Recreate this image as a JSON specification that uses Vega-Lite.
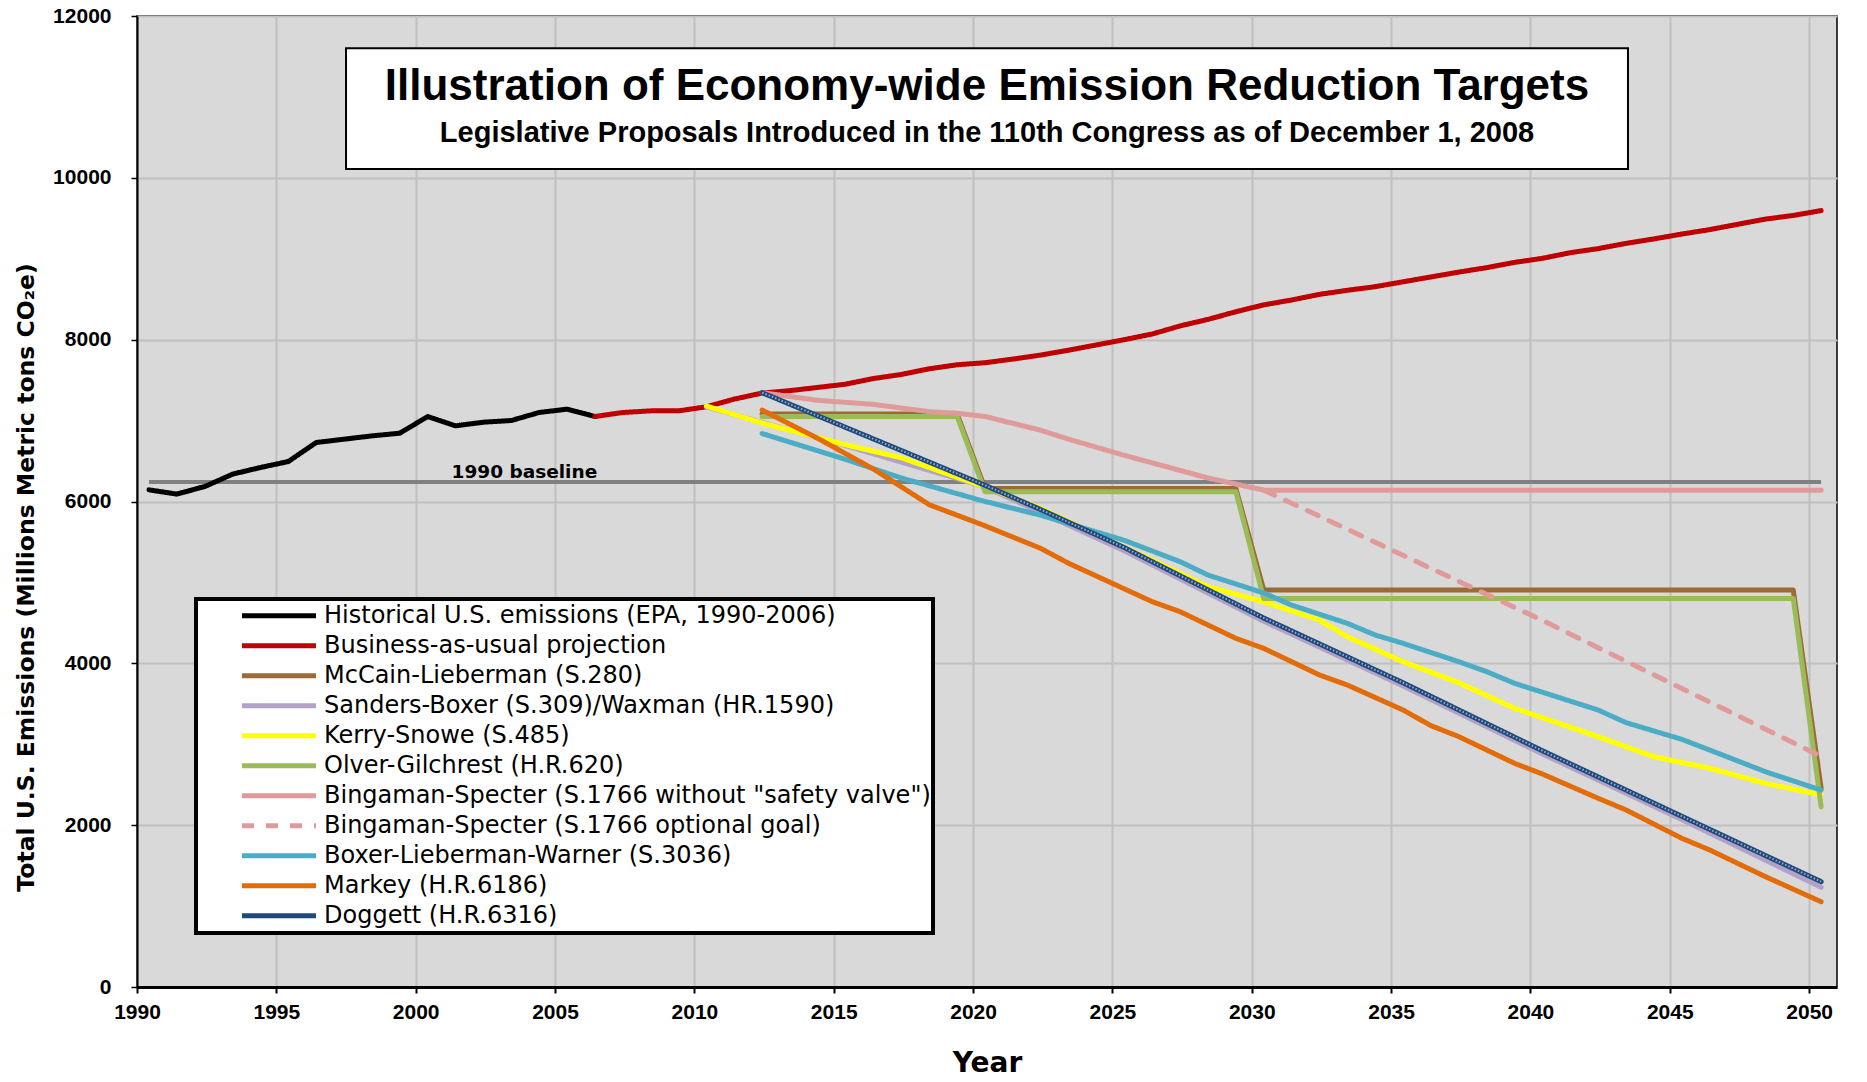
{
  "$schema": "https://vega.github.io/schema/vega-lite/v6.json",
  "width": 1700,
  "height": 971,
  "autosize": {"type": "none"},
  "padding": {"left": 137, "top": 16, "right": 30, "bottom": 95},
  "background": "white",
  "config": {
    "view": {"fill": "#d9d9d9", "stroke": "black", "strokeWidth": 1.5},
    "legend": {
      "orient": "none",
      "legendX": 59,
      "legendY": 583,
      "fillColor": "white",
      "strokeColor": "black",
      "strokeWidth": 4,
      "padding": 2,
      "symbolType": "stroke",
      "symbolSize": 5476,
      "symbolStrokeWidth": 5,
      "clipHeight": 29.6,
      "rowPadding": 0,
      "symbolOffset": 41.5,
      "labelOffset": 5.5,
      "labelFont": "DejaVu Sans",
      "labelFontSize": 24,
      "labelColor": "black",
      "labelLimit": 1000
    }
  },
  "datasets": {
    "baseline": [
      {"year": 1990, "value": 6240},
      {"year": 2050, "value": 6240}
    ],
    "emissions": [
      {"series": "Historical U.S. emissions (EPA, 1990-2006)", "year": 1990, "value": 6144},
      {"series": "Historical U.S. emissions (EPA, 1990-2006)", "year": 1991, "value": 6091},
      {"series": "Historical U.S. emissions (EPA, 1990-2006)", "year": 1992, "value": 6185},
      {"series": "Historical U.S. emissions (EPA, 1990-2006)", "year": 1993, "value": 6338},
      {"series": "Historical U.S. emissions (EPA, 1990-2006)", "year": 1994, "value": 6420},
      {"series": "Historical U.S. emissions (EPA, 1990-2006)", "year": 1995, "value": 6494},
      {"series": "Historical U.S. emissions (EPA, 1990-2006)", "year": 1996, "value": 6729},
      {"series": "Historical U.S. emissions (EPA, 1990-2006)", "year": 1997, "value": 6770},
      {"series": "Historical U.S. emissions (EPA, 1990-2006)", "year": 1998, "value": 6811},
      {"series": "Historical U.S. emissions (EPA, 1990-2006)", "year": 1999, "value": 6844},
      {"series": "Historical U.S. emissions (EPA, 1990-2006)", "year": 2000, "value": 7050},
      {"series": "Historical U.S. emissions (EPA, 1990-2006)", "year": 2001, "value": 6935},
      {"series": "Historical U.S. emissions (EPA, 1990-2006)", "year": 2002, "value": 6980},
      {"series": "Historical U.S. emissions (EPA, 1990-2006)", "year": 2003, "value": 7001},
      {"series": "Historical U.S. emissions (EPA, 1990-2006)", "year": 2004, "value": 7100},
      {"series": "Historical U.S. emissions (EPA, 1990-2006)", "year": 2005, "value": 7141},
      {"series": "Historical U.S. emissions (EPA, 1990-2006)", "year": 2006, "value": 7050},

      {"series": "Business-as-usual projection", "year": 2006, "value": 7050},
      {"series": "Business-as-usual projection", "year": 2007, "value": 7100},
      {"series": "Business-as-usual projection", "year": 2008, "value": 7120},
      {"series": "Business-as-usual projection", "year": 2009, "value": 7120},
      {"series": "Business-as-usual projection", "year": 2010, "value": 7170},
      {"series": "Business-as-usual projection", "year": 2011, "value": 7265},
      {"series": "Business-as-usual projection", "year": 2012, "value": 7340},
      {"series": "Business-as-usual projection", "year": 2013, "value": 7370},
      {"series": "Business-as-usual projection", "year": 2014, "value": 7410},
      {"series": "Business-as-usual projection", "year": 2015, "value": 7450},
      {"series": "Business-as-usual projection", "year": 2016, "value": 7520},
      {"series": "Business-as-usual projection", "year": 2017, "value": 7570},
      {"series": "Business-as-usual projection", "year": 2018, "value": 7640},
      {"series": "Business-as-usual projection", "year": 2019, "value": 7690},
      {"series": "Business-as-usual projection", "year": 2020, "value": 7715},
      {"series": "Business-as-usual projection", "year": 2021, "value": 7760},
      {"series": "Business-as-usual projection", "year": 2022, "value": 7810},
      {"series": "Business-as-usual projection", "year": 2023, "value": 7870},
      {"series": "Business-as-usual projection", "year": 2024, "value": 7935},
      {"series": "Business-as-usual projection", "year": 2025, "value": 8000},
      {"series": "Business-as-usual projection", "year": 2026, "value": 8070},
      {"series": "Business-as-usual projection", "year": 2027, "value": 8170},
      {"series": "Business-as-usual projection", "year": 2028, "value": 8250},
      {"series": "Business-as-usual projection", "year": 2029, "value": 8345},
      {"series": "Business-as-usual projection", "year": 2030, "value": 8430},
      {"series": "Business-as-usual projection", "year": 2031, "value": 8490},
      {"series": "Business-as-usual projection", "year": 2032, "value": 8560},
      {"series": "Business-as-usual projection", "year": 2033, "value": 8610},
      {"series": "Business-as-usual projection", "year": 2034, "value": 8655},
      {"series": "Business-as-usual projection", "year": 2035, "value": 8715},
      {"series": "Business-as-usual projection", "year": 2036, "value": 8775},
      {"series": "Business-as-usual projection", "year": 2037, "value": 8835},
      {"series": "Business-as-usual projection", "year": 2038, "value": 8890},
      {"series": "Business-as-usual projection", "year": 2039, "value": 8955},
      {"series": "Business-as-usual projection", "year": 2040, "value": 9005},
      {"series": "Business-as-usual projection", "year": 2041, "value": 9075},
      {"series": "Business-as-usual projection", "year": 2042, "value": 9125},
      {"series": "Business-as-usual projection", "year": 2043, "value": 9190},
      {"series": "Business-as-usual projection", "year": 2044, "value": 9245},
      {"series": "Business-as-usual projection", "year": 2045, "value": 9305},
      {"series": "Business-as-usual projection", "year": 2046, "value": 9360},
      {"series": "Business-as-usual projection", "year": 2047, "value": 9425},
      {"series": "Business-as-usual projection", "year": 2048, "value": 9490},
      {"series": "Business-as-usual projection", "year": 2049, "value": 9535},
      {"series": "Business-as-usual projection", "year": 2050, "value": 9595},

      {"series": "McCain-Lieberman (S.280)", "year": 2012, "value": 7080},
      {"series": "McCain-Lieberman (S.280)", "year": 2019, "value": 7080},
      {"series": "McCain-Lieberman (S.280)", "year": 2020, "value": 6160},
      {"series": "McCain-Lieberman (S.280)", "year": 2029, "value": 6160},
      {"series": "McCain-Lieberman (S.280)", "year": 2030, "value": 4906},
      {"series": "McCain-Lieberman (S.280)", "year": 2049, "value": 4906},
      {"series": "McCain-Lieberman (S.280)", "year": 2050, "value": 2455},

      {"series": "Sanders-Boxer (S.309)/Waxman  (HR.1590)", "year": 2010, "value": 7170},
      {"series": "Sanders-Boxer (S.309)/Waxman  (HR.1590)", "year": 2015, "value": 6690},
      {"series": "Sanders-Boxer (S.309)/Waxman  (HR.1590)", "year": 2020, "value": 6180},
      {"series": "Sanders-Boxer (S.309)/Waxman  (HR.1590)", "year": 2025, "value": 5390},
      {"series": "Sanders-Boxer (S.309)/Waxman  (HR.1590)", "year": 2030, "value": 4520},
      {"series": "Sanders-Boxer (S.309)/Waxman  (HR.1590)", "year": 2035, "value": 3720},
      {"series": "Sanders-Boxer (S.309)/Waxman  (HR.1590)", "year": 2040, "value": 2880},
      {"series": "Sanders-Boxer (S.309)/Waxman  (HR.1590)", "year": 2045, "value": 2070},
      {"series": "Sanders-Boxer (S.309)/Waxman  (HR.1590)", "year": 2050, "value": 1232},

      {"series": "Kerry-Snowe  (S.485)", "year": 2010, "value": 7180},
      {"series": "Kerry-Snowe  (S.485)", "year": 2012, "value": 6970},
      {"series": "Kerry-Snowe  (S.485)", "year": 2015, "value": 6700},
      {"series": "Kerry-Snowe  (S.485)", "year": 2017, "value": 6540},
      {"series": "Kerry-Snowe  (S.485)", "year": 2019, "value": 6300},
      {"series": "Kerry-Snowe  (S.485)", "year": 2020, "value": 6180},
      {"series": "Kerry-Snowe  (S.485)", "year": 2022, "value": 5915},
      {"series": "Kerry-Snowe  (S.485)", "year": 2024, "value": 5590},
      {"series": "Kerry-Snowe  (S.485)", "year": 2026, "value": 5276},
      {"series": "Kerry-Snowe  (S.485)", "year": 2028, "value": 4947},
      {"series": "Kerry-Snowe  (S.485)", "year": 2030, "value": 4760},
      {"series": "Kerry-Snowe  (S.485)", "year": 2032, "value": 4535},
      {"series": "Kerry-Snowe  (S.485)", "year": 2033, "value": 4329},
      {"series": "Kerry-Snowe  (S.485)", "year": 2035, "value": 4020},
      {"series": "Kerry-Snowe  (S.485)", "year": 2037, "value": 3760},
      {"series": "Kerry-Snowe  (S.485)", "year": 2039, "value": 3444},
      {"series": "Kerry-Snowe  (S.485)", "year": 2042, "value": 3093},
      {"series": "Kerry-Snowe  (S.485)", "year": 2044, "value": 2846},
      {"series": "Kerry-Snowe  (S.485)", "year": 2046, "value": 2703},
      {"series": "Kerry-Snowe  (S.485)", "year": 2048, "value": 2517},
      {"series": "Kerry-Snowe  (S.485)", "year": 2050, "value": 2373},

      {"series": "Olver-Gilchrest (H.R.620)", "year": 2012, "value": 7050},
      {"series": "Olver-Gilchrest (H.R.620)", "year": 2019, "value": 7050},
      {"series": "Olver-Gilchrest (H.R.620)", "year": 2020, "value": 6120},
      {"series": "Olver-Gilchrest (H.R.620)", "year": 2029, "value": 6120},
      {"series": "Olver-Gilchrest (H.R.620)", "year": 2030, "value": 4800},
      {"series": "Olver-Gilchrest (H.R.620)", "year": 2049, "value": 4800},
      {"series": "Olver-Gilchrest (H.R.620)", "year": 2050, "value": 2228},

      {"series": "Bingaman-Specter (S.1766 without \"safety valve\")", "year": 2012, "value": 7345},
      {"series": "Bingaman-Specter (S.1766 without \"safety valve\")", "year": 2014, "value": 7250},
      {"series": "Bingaman-Specter (S.1766 without \"safety valve\")", "year": 2016, "value": 7200},
      {"series": "Bingaman-Specter (S.1766 without \"safety valve\")", "year": 2018, "value": 7110},
      {"series": "Bingaman-Specter (S.1766 without \"safety valve\")", "year": 2019, "value": 7090},
      {"series": "Bingaman-Specter (S.1766 without \"safety valve\")", "year": 2020, "value": 7050},
      {"series": "Bingaman-Specter (S.1766 without \"safety valve\")", "year": 2022, "value": 6880},
      {"series": "Bingaman-Specter (S.1766 without \"safety valve\")", "year": 2023, "value": 6770},
      {"series": "Bingaman-Specter (S.1766 without \"safety valve\")", "year": 2025, "value": 6570},
      {"series": "Bingaman-Specter (S.1766 without \"safety valve\")", "year": 2028, "value": 6290},
      {"series": "Bingaman-Specter (S.1766 without \"safety valve\")", "year": 2030, "value": 6140},
      {"series": "Bingaman-Specter (S.1766 without \"safety valve\")", "year": 2050, "value": 6140},

      {"series": "Bingaman-Specter (S.1766 optional goal)", "year": 2030, "value": 6140},
      {"series": "Bingaman-Specter (S.1766 optional goal)", "year": 2040, "value": 4530},
      {"series": "Bingaman-Specter (S.1766 optional goal)", "year": 2050, "value": 2850},

      {"series": "Boxer-Lieberman-Warner (S.3036)", "year": 2012, "value": 6840},
      {"series": "Boxer-Lieberman-Warner (S.3036)", "year": 2015, "value": 6520},
      {"series": "Boxer-Lieberman-Warner (S.3036)", "year": 2017, "value": 6290},
      {"series": "Boxer-Lieberman-Warner (S.3036)", "year": 2020, "value": 6000},
      {"series": "Boxer-Lieberman-Warner (S.3036)", "year": 2022, "value": 5830},
      {"series": "Boxer-Lieberman-Warner (S.3036)", "year": 2025, "value": 5520},
      {"series": "Boxer-Lieberman-Warner (S.3036)", "year": 2027, "value": 5256},
      {"series": "Boxer-Lieberman-Warner (S.3036)", "year": 2028, "value": 5091},
      {"series": "Boxer-Lieberman-Warner (S.3036)", "year": 2030, "value": 4870},
      {"series": "Boxer-Lieberman-Warner (S.3036)", "year": 2031, "value": 4720},
      {"series": "Boxer-Lieberman-Warner (S.3036)", "year": 2033, "value": 4494},
      {"series": "Boxer-Lieberman-Warner (S.3036)", "year": 2034, "value": 4350},
      {"series": "Boxer-Lieberman-Warner (S.3036)", "year": 2035, "value": 4247},
      {"series": "Boxer-Lieberman-Warner (S.3036)", "year": 2037, "value": 4020},
      {"series": "Boxer-Lieberman-Warner (S.3036)", "year": 2038, "value": 3897},
      {"series": "Boxer-Lieberman-Warner (S.3036)", "year": 2039, "value": 3753},
      {"series": "Boxer-Lieberman-Warner (S.3036)", "year": 2042, "value": 3423},
      {"series": "Boxer-Lieberman-Warner (S.3036)", "year": 2043, "value": 3267},
      {"series": "Boxer-Lieberman-Warner (S.3036)", "year": 2045, "value": 3061},
      {"series": "Boxer-Lieberman-Warner (S.3036)", "year": 2046, "value": 2929},
      {"series": "Boxer-Lieberman-Warner (S.3036)", "year": 2048, "value": 2661},
      {"series": "Boxer-Lieberman-Warner (S.3036)", "year": 2050, "value": 2434},

      {"series": "Markey (H.R.6186)", "year": 2012, "value": 7130},
      {"series": "Markey (H.R.6186)", "year": 2014, "value": 6780},
      {"series": "Markey (H.R.6186)", "year": 2016, "value": 6400},
      {"series": "Markey (H.R.6186)", "year": 2018, "value": 5960},
      {"series": "Markey (H.R.6186)", "year": 2020, "value": 5700},
      {"series": "Markey (H.R.6186)", "year": 2022, "value": 5420},
      {"series": "Markey (H.R.6186)", "year": 2023, "value": 5236},
      {"series": "Markey (H.R.6186)", "year": 2026, "value": 4762},
      {"series": "Markey (H.R.6186)", "year": 2027, "value": 4638},
      {"series": "Markey (H.R.6186)", "year": 2029, "value": 4309},
      {"series": "Markey (H.R.6186)", "year": 2030, "value": 4185},
      {"series": "Markey (H.R.6186)", "year": 2032, "value": 3856},
      {"series": "Markey (H.R.6186)", "year": 2033, "value": 3732},
      {"series": "Markey (H.R.6186)", "year": 2035, "value": 3423},
      {"series": "Markey (H.R.6186)", "year": 2036, "value": 3230},
      {"series": "Markey (H.R.6186)", "year": 2037, "value": 3094},
      {"series": "Markey (H.R.6186)", "year": 2039, "value": 2764},
      {"series": "Markey (H.R.6186)", "year": 2040, "value": 2632},
      {"series": "Markey (H.R.6186)", "year": 2042, "value": 2332},
      {"series": "Markey (H.R.6186)", "year": 2043, "value": 2188},
      {"series": "Markey (H.R.6186)", "year": 2045, "value": 1838},
      {"series": "Markey (H.R.6186)", "year": 2046, "value": 1694},
      {"series": "Markey (H.R.6186)", "year": 2048, "value": 1364},
      {"series": "Markey (H.R.6186)", "year": 2050, "value": 1054},

      {"series": "Doggett (H.R.6316)", "year": 2012, "value": 7345},
      {"series": "Doggett (H.R.6316)", "year": 2020, "value": 6200},
      {"series": "Doggett (H.R.6316)", "year": 2022, "value": 5900},
      {"series": "Doggett (H.R.6316)", "year": 2025, "value": 5430},
      {"series": "Doggett (H.R.6316)", "year": 2030, "value": 4560},
      {"series": "Doggett (H.R.6316)", "year": 2035, "value": 3760},
      {"series": "Doggett (H.R.6316)", "year": 2040, "value": 2920},
      {"series": "Doggett (H.R.6316)", "year": 2045, "value": 2110},
      {"series": "Doggett (H.R.6316)", "year": 2050, "value": 1302}
    ]
  },
  "layer": [
    {
      "data": {"name": "baseline"},
      "mark": {"type": "line", "color": "#808080", "strokeWidth": 4, "xOffset": 12},
      "encoding": {
        "x": {"field": "year", "type": "quantitative", "scale": {"domain": [1990, 2051], "nice": false, "zero": false}},
        "y": {"field": "value", "type": "quantitative", "scale": {"domain": [0, 12000], "nice": false}}
      }
    },
    {
      "data": {"name": "emissions"},
      "mark": {"type": "line", "strokeWidth": 5, "xOffset": 12, "strokeCap": "round", "strokeJoin": "round"},
      "encoding": {
        "x": {
          "field": "year",
          "type": "quantitative",
          "scale": {"domain": [1990, 2051], "nice": false, "zero": false},
          "axis": {
            "values": [1990, 1995, 2000, 2005, 2010, 2015, 2020, 2025, 2030, 2035, 2040, 2045, 2050],
            "format": "d",
            "title": "Year",
            "titleFont": "DejaVu Sans",
            "titleFontSize": 28,
            "titleFontWeight": "bold",
            "titleColor": "black",
            "titlePadding": 27,
            "labelFont": "Liberation Sans",
            "labelFontWeight": "bold",
            "labelFontSize": 21,
            "labelColor": "black",
            "labelPadding": 8,
            "labelFlush": false,
            "labelOverlap": false,
            "tickColor": "black",
            "tickSize": 6,
            "tickWidth": 2,
            "domainColor": "black",
            "domainWidth": 3,
            "grid": true,
            "gridColor": "#c0c0c0",
            "gridWidth": 2
          }
        },
        "y": {
          "field": "value",
          "type": "quantitative",
          "scale": {"domain": [0, 12000], "nice": false},
          "axis": {
            "values": [0, 2000, 4000, 6000, 8000, 10000, 12000],
            "format": "d",
            "title": "Total U.S. Emissions (Millions Metric tons CO₂e)",
            "titleFont": "DejaVu Sans",
            "titleFontSize": 23.5,
            "titleFontWeight": "bold",
            "titleColor": "black",
            "titleAngle": 270,
            "titleX": -111,
            "titleY": 561,
            "titleAlign": "center",
            "titleBaseline": "middle",
            "labelFont": "Liberation Sans",
            "labelFontWeight": "bold",
            "labelFontSize": 21,
            "labelColor": "black",
            "labelPadding": 20,
            "tickColor": "black",
            "tickSize": 6,
            "tickWidth": 1.5,
            "domainColor": "black",
            "domainWidth": 2,
            "grid": true,
            "gridColor": "#c0c0c0",
            "gridWidth": 2
          }
        },
        "color": {
          "field": "series",
          "type": "nominal",
          "title": null,
          "scale": {
            "domain": [
              "Historical U.S. emissions (EPA, 1990-2006)",
              "Business-as-usual projection",
              "McCain-Lieberman (S.280)",
              "Sanders-Boxer (S.309)/Waxman  (HR.1590)",
              "Kerry-Snowe  (S.485)",
              "Olver-Gilchrest (H.R.620)",
              "Bingaman-Specter (S.1766 without \"safety valve\")",
              "Bingaman-Specter (S.1766 optional goal)",
              "Boxer-Lieberman-Warner (S.3036)",
              "Markey (H.R.6186)",
              "Doggett (H.R.6316)"
            ],
            "range": ["#000000", "#c00000", "#9c6a35", "#b3a2c7", "#ffff00", "#9bbb59", "#e09a9a", "#e09a9a", "#4bacc6", "#e36c09", "#1f497d"]
          }
        },
        "strokeDash": {
          "field": "series",
          "type": "nominal",
          "title": null,
          "scale": {
            "domain": [
              "Historical U.S. emissions (EPA, 1990-2006)",
              "Business-as-usual projection",
              "McCain-Lieberman (S.280)",
              "Sanders-Boxer (S.309)/Waxman  (HR.1590)",
              "Kerry-Snowe  (S.485)",
              "Olver-Gilchrest (H.R.620)",
              "Bingaman-Specter (S.1766 without \"safety valve\")",
              "Bingaman-Specter (S.1766 optional goal)",
              "Boxer-Lieberman-Warner (S.3036)",
              "Markey (H.R.6186)",
              "Doggett (H.R.6316)"
            ],
            "range": [[1, 0], [1, 0], [1, 0], [1, 0], [1, 0], [1, 0], [1, 0], [12, 12], [1, 0], [1, 0], [1, 0]]
          }
        }
      }
    },
    {
      "data": {"name": "emissions"},
      "transform": [{"filter": "datum.series === 'Doggett (H.R.6316)'"}],
      "mark": {"type": "line", "color": "#ffffff", "strokeWidth": 2, "strokeDash": [1.5, 2], "opacity": 0.55, "xOffset": 12},
      "encoding": {
        "x": {"field": "year", "type": "quantitative"},
        "y": {"field": "value", "type": "quantitative"}
      }
    },
    {
      "data": {"values": [{"label": "1990 baseline"}]},
      "mark": {"type": "text", "font": "DejaVu Sans", "fontWeight": "bold", "fontSize": 18.5, "color": "black", "align": "center", "baseline": "alphabetic"},
      "encoding": {
        "x": {"datum": 2003.9, "type": "quantitative"},
        "y": {"datum": 6290, "type": "quantitative"},
        "text": {"field": "label", "type": "nominal"}
      }
    },
    {
      "data": {"values": [{"label": "box"}]},
      "mark": {"type": "rect", "fill": "white", "stroke": "black", "strokeWidth": 2},
      "encoding": {
        "x": {"datum": 1997.5, "type": "quantitative"},
        "x2": {"datum": 2043.5},
        "y": {"datum": 11600, "type": "quantitative"},
        "y2": {"datum": 10110}
      }
    },
    {
      "data": {"values": [{"label": "Illustration of Economy-wide Emission Reduction Targets"}]},
      "mark": {"type": "text", "font": "Liberation Sans", "fontWeight": "bold", "fontSize": 44, "color": "black", "align": "center", "baseline": "alphabetic"},
      "encoding": {
        "x": {"datum": 2020.5, "type": "quantitative"},
        "y": {"datum": 10961, "type": "quantitative"},
        "text": {"field": "label", "type": "nominal"}
      }
    },
    {
      "data": {"values": [{"label": "Legislative Proposals Introduced in the 110th Congress as of December 1, 2008"}]},
      "mark": {"type": "text", "font": "Liberation Sans", "fontWeight": "bold", "fontSize": 29, "color": "black", "align": "center", "baseline": "alphabetic"},
      "encoding": {
        "x": {"datum": 2020.5, "type": "quantitative"},
        "y": {"datum": 10442, "type": "quantitative"},
        "text": {"field": "label", "type": "nominal"}
      }
    }
  ]
}
